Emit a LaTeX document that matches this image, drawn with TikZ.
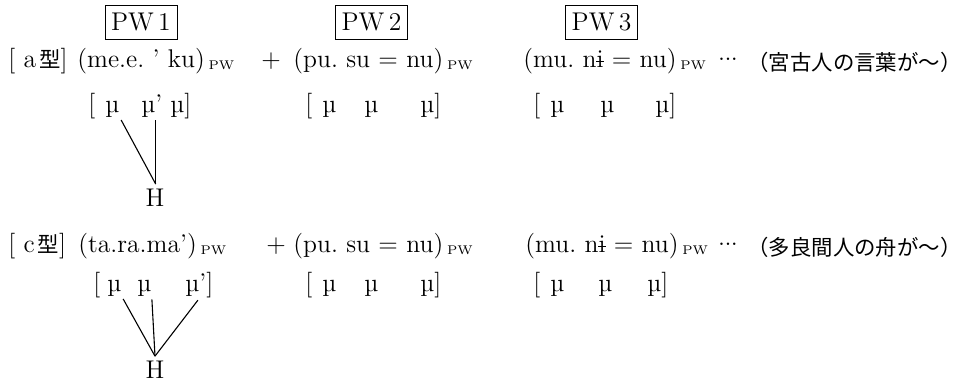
\documentclass[tikz,border=0pt]{standalone}
\usepackage{fontspec}
\newfontfamily\jpfont{Noto Sans CJK JP}
\usepackage{tikz}
\newcommand{\barredi}{\ooalign{i\cr\hidewidth\rule[0.2em]{0.28em}{0.045em}\hidewidth\cr}}
\newcommand{\middots}{\raisebox{0.25em}{.\kern-0.3pt.\kern-0.3pt.}}

\begin{document}
\begin{tikzpicture}[x=0.5pt,y=-0.5pt,
  txt/.style={inner sep=0pt,anchor=base west,font=\fontsize{12.8}{15}\selectfont},
  sub/.style={inner sep=0pt,anchor=base west,font=\fontsize{6.3}{7}\selectfont},
  gloss/.style={inner sep=0pt,anchor=base west,font=\fontsize{10.7}{12}\jpfont},
  pwbox/.style={draw,line width=0.5pt,inner sep=0pt,minimum width=36pt,minimum height=17pt,font=\fontsize{12.8}{15}\selectfont},
  link/.style={line width=0.55pt,shorten <=1.5pt}]
  \useasboundingbox (0,0) rectangle (972,381);

  % prosodic word labels
  \node[pwbox] (pw1) at (141,22) {PW\,1};
  \node[pwbox] (pw2) at (371.5,22) {PW\,2};
  \node[pwbox] (pw3) at (601.5,22) {PW\,3};

  % type a
  \node[txt] (typA) at (8,67) {[\ a\kern1.5pt{\jpfont\fontsize{10.7}{12}\selectfont 型}]};
  \node[txt] (wA1) at (77,67) {(me.e.\ ’\ ku)};
  \node[sub] (sA1) at ([xshift=1.5pt,yshift=-1pt]wA1.base east) {PW};
  \node[txt,anchor=base] (plA) at (271,67) {+};
  \node[txt] (wA2) at (293,67) {(pu.\ su = nu)};
  \node[sub] (sA2) at ([xshift=1.5pt,yshift=-1pt]wA2.base east) {PW};
  \node[txt] (wA3) at (523,67) {(mu.\ n\barredi\ = nu)};
  \node[sub] (sA3) at ([xshift=1.5pt,yshift=-1pt]wA3.base east) {PW};
  \node[txt,anchor=base] (dtA) at (728,67) {\middots};
  \node[gloss] (glA) at (747,70) {（宮古人の言葉が〜）};

  \node[txt] (lbA) at (88,112) {[};
  \node[txt] (muA1) at (105,112) {µ};
  \node[txt] (muA2) at (141,112) {µ\rlap{’}};
  \node[txt] (muA3) at (170,112) {µ]};
  \node[txt] (lbB) at (305,112) {[};
  \node[txt] (muB1) at (322,112) {µ};
  \node[txt] (muB2) at (364,112) {µ};
  \node[txt] (muB3) at (420,112) {µ]};
  \node[txt] (lbC) at (533,112) {[};
  \node[txt] (muC1) at (550,112) {µ};
  \node[txt] (muC2) at (600,112) {µ};
  \node[txt] (muC3) at (655,112) {µ]};

  \node[txt,anchor=base] (hA) at (155,206) {H};
  \coordinate (topA) at ([yshift=2pt]muA2.south east |- hA.north);
  \draw[link] (muA1.south east) -- (topA);
  \draw[link] (muA2.south east) -- (topA);

  % type c
  \node[txt] (typC) at (8,252) {[\ c\kern1.5pt{\jpfont\fontsize{10.7}{12}\selectfont 型}]};
  \node[txt] (wC1) at (78,252) {(ta.ra.ma’)};
  \node[sub] (sC1) at ([xshift=1.5pt,yshift=-1pt]wC1.base east) {PW};
  \node[txt,anchor=base] (plC) at (276,252) {+};
  \node[txt] (wC2) at (293,252) {(pu.\ su = nu)};
  \node[sub] (sC2) at ([xshift=1.5pt,yshift=-1pt]wC2.base east) {PW};
  \node[txt] (wC3) at (525,252) {(mu.\ n\barredi\ = nu)};
  \node[sub] (sC3) at ([xshift=1.5pt,yshift=-1pt]wC3.base east) {PW};
  \node[txt,anchor=base] (dtC) at (728,252) {\middots};
  \node[gloss] (glC) at (747,255) {（多良間人の舟が〜）};

  \node[txt] (lbD) at (93,291) {[};
  \node[txt] (muD1) at (107,291) {µ};
  \node[txt] (muD2) at (137,291) {µ};
  \node[txt] (muD3) at (185,291) {µ\rlap{’]}};
  \node[txt] (lbE) at (305,291) {[};
  \node[txt] (muE1) at (322,291) {µ};
  \node[txt] (muE2) at (364,291) {µ};
  \node[txt] (muE3) at (420,291) {µ]};
  \node[txt] (lbF) at (533,291) {[};
  \node[txt] (muF1) at (550,291) {µ};
  \node[txt] (muF2) at (598,291) {µ};
  \node[txt] (muF3) at (647,291) {µ]};

  \node[txt,anchor=base] (hC) at (155,378) {H};
  \coordinate (topC) at ([yshift=2pt]hC.north);
  \draw[link] (muD1.south east) -- (topC);
  \draw[link] (muD2.south east) -- (topC);
  \draw[link] (muD3.south east) -- (topC);
\end{tikzpicture}
\end{document}
